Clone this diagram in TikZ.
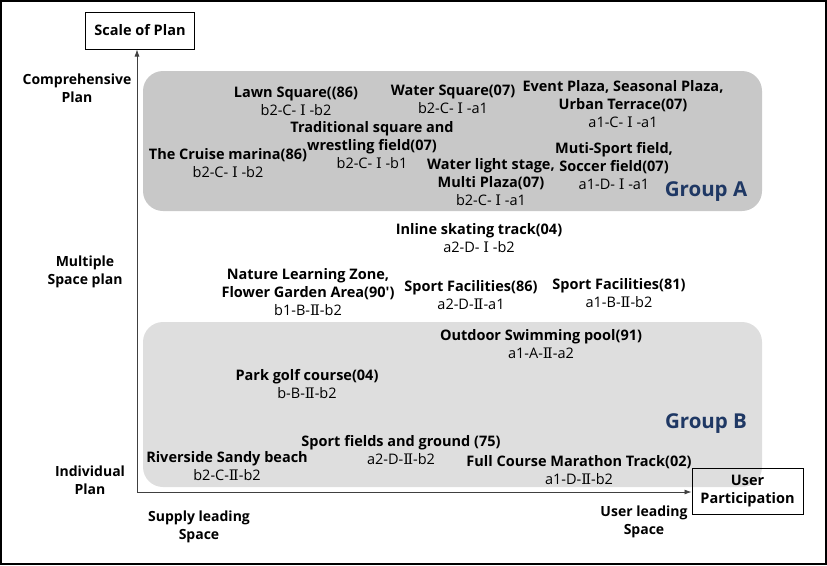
\documentclass[tikz,border=0pt]{standalone}
\usepackage{fontspec}
\setmainfont{Open Sans}
\newfontfamily\numfont{DejaVu Serif}
\usetikzlibrary{arrows.meta}
\newcommand{\RI}{{\numfont Ⅰ}}
\newcommand{\RII}{{\numfont Ⅱ}}
\definecolor{grpA}{RGB}{200,200,200}
\definecolor{grpB}{RGB}{222,222,222}
\definecolor{navy}{RGB}{31,56,100}
\tikzset{
  entry/.style={align=center, inner sep=0pt, font=\fontsize{14.5}{18}\selectfont},
  axislabel/.style={align=center, inner sep=0pt, font=\fontsize{14}{18}\selectfont\bfseries},
  axisbox/.style={draw=black, line width=1pt, align=center, inner sep=0pt, font=\fontsize{14.5}{18.5}\selectfont\bfseries},
  grouplabel/.style={inner sep=0pt, text=navy, font=\fontsize{20.5}{22}\selectfont\bfseries},
  groupbox/.style={rounded corners=20pt},
  axisline/.style={draw=black!75, line width=0.8pt, -{Latex[length=7pt,width=5pt]}}
}
\begin{document}
\begin{tikzpicture}[x=1pt,y=-1pt]
\useasboundingbox (0,0) rectangle (827,565);
\draw[line width=1.5pt] (1,1) rectangle (826,564);
% group boxes
\fill[grpA, groupbox] (143,71) rectangle (762,211);
\fill[grpB, groupbox] (143,322) rectangle (762,487);
% axis boxes
\node[axisbox, minimum width=109pt, minimum height=37pt] (scale) at (140,30.5) {Scale of Plan};
\node[axisbox, minimum width=111pt, minimum height=46pt] (user) at (747.5,491) {User\\Participation};
\coordinate (O) at (137,492);
\draw[axisline] (O) -- (O |- scale.south);
\draw[axisline] (O) -- (O -| user.west);
% axis labels
\node[axislabel] (comp) at (77,88) {Comprehensive\\Plan};
\node[axislabel] (mult) at (85,272) {Multiple\\Space plan};
\node[axislabel] (indiv) at (90,480) {Individual\\Plan};
\node[axislabel] (supply) at (199,527) {Supply leading\\Space};
\node[axislabel] (userlead) at (644,522) {User leading\\Space};
% group labels
\node[grouplabel] (ga) at (706,192) {Group A};
\node[grouplabel] (gb) at (706,424) {Group B};
% entries group A
\node[entry] (lawn) at (296,101) {\textbf{Lawn Square((86)}\\b2-C- \RI\ -b2};
\node[entry] (water) at (453,99.5) {\textbf{Water Square(07)}\\b2-C- \RI\ -a1};
\node[entry] (event) at (623,104) {\textbf{Event Plaza, Seasonal Plaza,}\\\textbf{Urban Terrace(07)}\\a1-C- \RI\ -a1};
\node[entry] (trad) at (372,145) {\textbf{Traditional square and}\\\textbf{wrestling field(07)}\\b2-C- \RI\ -b1};
\node[entry] (cruise) at (228,163) {\textbf{The Cruise marina(86)}\\b2-C- \RI\ -b2};
\node[entry] (wlight) at (491,182) {\textbf{Water light stage,}\\\textbf{Multi Plaza(07)}\\b2-C- \RI\ -a1};
\node[entry] (muti) at (614,166) {\textbf{Muti-Sport field,}\\\textbf{Soccer field(07)}\\a1-D- \RI\ -a1};
% entries middle
\node[entry] (inline) at (479,238) {\textbf{Inline skating track(04)}\\a2-D- \RI\ -b2};
\node[entry] (nature) at (308,292) {\textbf{Nature Learning Zone,}\\\textbf{Flower Garden Area(90′)}\\b1-B-\RII-b2};
\node[entry] (sport86) at (471,295) {\textbf{Sport Facilities(86)}\\a2-D-\RII-a1};
\node[entry] (sport81) at (619,293) {\textbf{Sport Facilities(81)}\\a1-B-\RII-b2};
% entries group B
\node[entry] (pool) at (541,344) {\textbf{Outdoor Swimming pool(91)}\\a1-A-\RII-a2};
\node[entry] (golf) at (307,384) {\textbf{Park golf course(04)}\\b-B-\RII-b2};
\node[entry] (fields) at (401,450) {\textbf{Sport fields and ground (75)}\\a2-D-\RII-b2};
\node[entry] (beach) at (227,466) {\textbf{Riverside Sandy beach}\\b2-C-\RII-b2};
\node[entry] (marathon) at (579,470) {\textbf{Full Course Marathon Track(02)}\\a1-D-\RII-b2};
\end{tikzpicture}
\end{document}
